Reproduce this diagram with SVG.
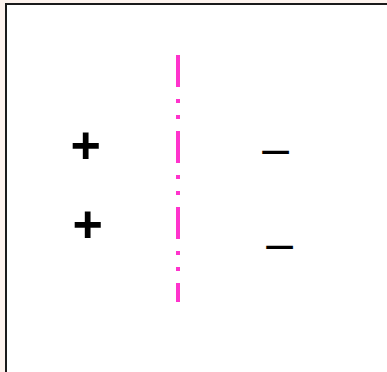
<svg xmlns="http://www.w3.org/2000/svg" width="387" height="372" viewBox="0 0 387 372">
<style>
.plus{font-family:"Liberation Sans",Arial,sans-serif;font-weight:bold;font-size:52px;fill:#000;text-anchor:middle}
.minus{font-family:"Liberation Sans",Arial,sans-serif;font-size:48px;fill:#000;text-anchor:middle}
</style>
<rect x="0" y="0" width="387" height="372" fill="#fdf3ee"/>
<rect x="6" y="4" width="400" height="400" fill="#fff" stroke="#1a1a1a" stroke-width="2"/>
<g id="connectors">
<line x1="178" y1="55" x2="178" y2="302" stroke="#ff33cc" stroke-width="4" stroke-dasharray="32 12 4 12 4 12"/>
</g>
<g id="plus1"><text class="plus" x="85.8" y="163">+</text></g>
<g id="plus2"><text class="plus" x="87.8" y="242">+</text></g>
<g id="minus1"><text class="minus" x="275.7" y="165">–</text></g>
<g id="minus2"><text class="minus" x="279.7" y="260">–</text></g>
</svg>
